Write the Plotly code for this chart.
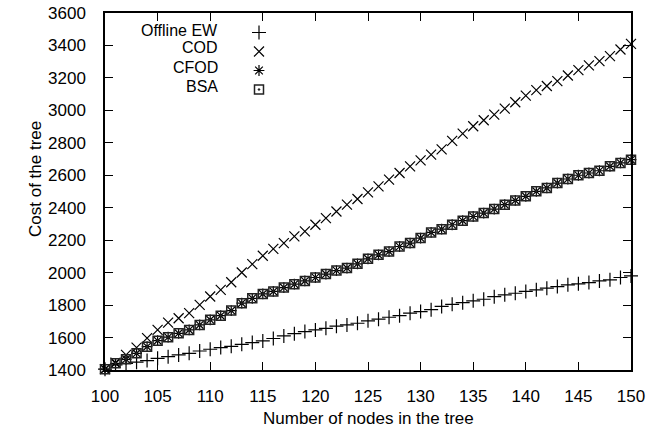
import plotly.graph_objects as go

nodes = list(range(100, 151))

offline_ew = [1405, 1431, 1441, 1448, 1458, 1472, 1482, 1493, 1503, 1517,
              1528, 1538, 1546, 1558, 1569, 1579, 1594, 1610, 1624, 1637,
              1647, 1657, 1670, 1678, 1688, 1703, 1713, 1725, 1735, 1750,
              1760, 1772, 1792, 1805, 1815, 1826, 1836, 1852, 1863, 1873,
              1884, 1894, 1904, 1914, 1925, 1931, 1939, 1949, 1956, 1970,
              1980]

cod = [1405, 1445, 1493, 1538, 1596, 1647, 1692, 1719, 1750, 1801,
       1853, 1894, 1941, 2001, 2052, 2104, 2146, 2182, 2223, 2254,
       2295, 2336, 2377, 2419, 2454, 2495, 2532, 2573, 2614, 2655,
       2692, 2727, 2760, 2812, 2857, 2902, 2939, 2974, 3011, 3050,
       3091, 3125, 3150, 3180, 3215, 3248, 3277, 3303, 3334, 3375,
       3410]

cfod = [1405, 1441, 1466, 1503, 1544, 1581, 1602, 1626, 1647, 1678,
        1709, 1735, 1766, 1812, 1842, 1869, 1884, 1908, 1929, 1949,
        1970, 1991, 2013, 2028, 2054, 2085, 2110, 2130, 2161, 2182,
        2213, 2248, 2268, 2295, 2320, 2346, 2367, 2392, 2419, 2445,
        2470, 2501, 2522, 2552, 2577, 2600, 2614, 2628, 2655, 2676,
        2696]

bsa = [1405, 1441, 1466, 1503, 1544, 1581, 1602, 1626, 1647, 1678,
       1709, 1735, 1766, 1812, 1842, 1869, 1884, 1908, 1929, 1949,
       1970, 1991, 2013, 2028, 2054, 2085, 2110, 2130, 2161, 2182,
       2213, 2248, 2268, 2295, 2320, 2346, 2367, 2392, 2419, 2445,
       2470, 2501, 2522, 2552, 2577, 2600, 2614, 2628, 2655, 2676,
       2696]

series_names = ["Offline EW", "COD", "CFOD", "BSA"]
x_ticks = list(range(100, 151, 5))
y_ticks = list(range(1400, 3601, 200))

FONT = "Liberation Sans, Arial, sans-serif"
FS = 17
W, H = 647, 429
ML, MR, MT, MB = 105, 16, 13, 59
PW, PH = W - ML - MR, H - MT - MB

def px2paper_x(px):
    return (px - ML) / PW

def px2paper_y(py):
    return (H - MB - py) / PH

fig = go.Figure()
styles = [
    ("cross-thin-open", 10, 1.2, "black"),
    ("x-thin-open", 10, 1.2, "black"),
    ("asterisk-open", 9, 1.2, "black"),
    ("square-open-dot", 9, 1.5, "#222222"),
]
for name, ys, (sym, sz, lw, col) in zip(series_names, [offline_ew, cod, cfod, bsa], styles):
    fig.add_trace(go.Scatter(
        x=nodes, y=ys, mode="markers", name="",
        marker=dict(symbol=sym, size=sz, color=col, line=dict(width=lw, color=col)),
        cliponaxis=False, showlegend=True,
    ))

axis_common = dict(
    showline=True, linecolor="black", linewidth=1.5, mirror="ticks",
    ticks="inside", ticklen=8, tickwidth=1, tickcolor="black",
    showgrid=False, zeroline=False, automargin=False,
    tickfont=dict(family=FONT, size=FS, color="black"),
)

fig.update_layout(
    width=W, height=H, autosize=False,
    margin=dict(l=ML, r=MR, t=MT, b=MB, pad=0),
    paper_bgcolor="white", plot_bgcolor="white",
    showlegend=True,
    legend=dict(
        x=px2paper_x(239), y=px2paper_y(18), xanchor="left", yanchor="top",
        bgcolor="rgba(0,0,0,0)", font=dict(family=FONT, size=11),
        itemwidth=30,
    ),
    xaxis=dict(range=[100, 150], tickvals=x_ticks, ticklabelstandoff=10, **axis_common),
    yaxis=dict(range=[1400, 3600], tickvals=y_ticks, ticklabelstandoff=14, **axis_common),
)

legend_rows = [30, 48, 67, 86]
for name, ry in zip(series_names, legend_rows):
    fig.add_annotation(
        x=px2paper_x(219), y=px2paper_y(ry), xref="paper", yref="paper",
        text=name, showarrow=False, xanchor="right", yanchor="middle",
        borderpad=0,
        font=dict(family=FONT, size=16, color="black"),
    )

fig.add_annotation(
    x=px2paper_x(368), y=px2paper_y(418), xref="paper", yref="paper",
    text="Number of nodes in the tree", showarrow=False,
    xanchor="center", yanchor="middle",
    font=dict(family=FONT, size=FS, color="black"),
)
fig.add_annotation(
    x=px2paper_x(35), y=px2paper_y(179), xref="paper", yref="paper",
    text="Cost of the tree", showarrow=False, textangle=-90,
    xanchor="center", yanchor="middle",
    font=dict(family=FONT, size=FS, color="black"),
)

fig.write_html("out.html", config={"displayModeBar": False})

with open("out.html", "r", encoding="utf-8") as f:
    html = f.read()
html = html.replace(
    "<head>",
    "<head><style>html,body{margin:0;padding:0;overflow:hidden;}</style>",
    1,
)
with open("out.html", "w", encoding="utf-8") as f:
    f.write(html)
